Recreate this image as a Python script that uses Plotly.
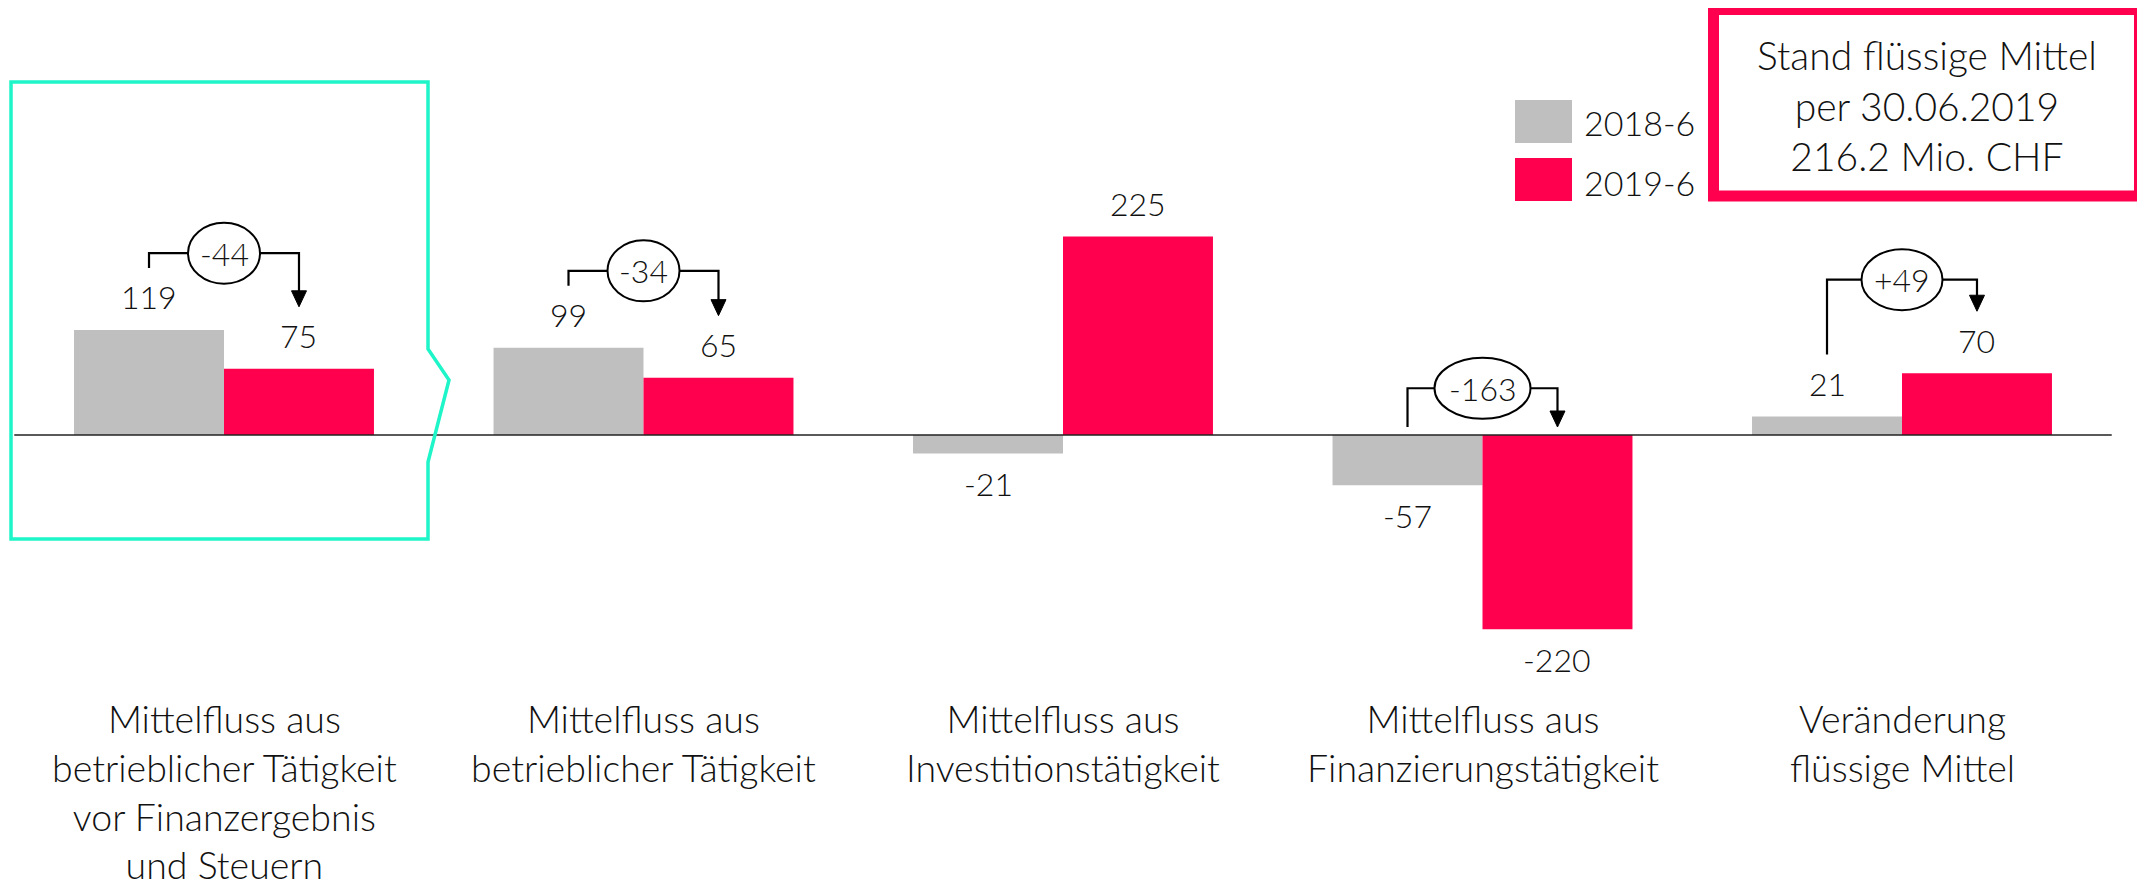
import plotly.graph_objects as go

# ---------------- data ----------------
categories = [
    "Mittelfluss aus<br>betrieblicher Tätigkeit<br>vor Finanzergebnis<br>und Steuern",
    "Mittelfluss aus<br>betrieblicher Tätigkeit",
    "Mittelfluss aus<br>Investitionstätigkeit",
    "Mittelfluss aus<br>Finanzierungstätigkeit",
    "Veränderung<br>flüssige Mittel",
]
series_names = ["2018-6", "2019-6"]
values_2018 = [119, 99, -21, -57, 21]
values_2019 = [75, 65, 225, -220, 70]
show_diff = [True, True, False, True, True]
info_lines = ["Stand flüssige Mittel", "per 30.06.2019", "216.2 Mio. CHF"]

# ---------------- layout config ----------------
PAGE_OFF = 8               # default body margin of the html page
W, H = 2145 - PAGE_OFF, 883 - PAGE_OFF
PX_PER_X = 419.5           # pixels per category
X0_PX = 224 - PAGE_OFF     # pixel x of first category centre
PX_PER_Y = 0.8825          # pixels per value unit
ZERO_PX = 435 - PAGE_OFF   # pixel y of zero line
BARGAP = 0.285
bracket_level = [206, 186, None, 53, 176]   # height of difference brackets (value units)

GREY = "#BFBFBF"
RED = "#FF004F"
TEAL = "#1EF5C8"
FONT = "Lato, 'Source Sans Pro', 'Open Sans', sans-serif"
FW = 300

x_range = [-X0_PX / PX_PER_X, (W - X0_PX) / PX_PER_X]
y_range = [-(H - ZERO_PX) / PX_PER_Y, ZERO_PX / PX_PER_Y]


def py(px):  # pixel offset -> value units
    return px / PX_PER_Y


n = len(categories)
xs = list(range(n))
bar_off = (1 - BARGAP) / 4.0

fig = go.Figure()
fig.add_trace(go.Bar(x=xs, y=values_2018, name=series_names[0], marker=dict(color=GREY, line=dict(width=0)),
                     showlegend=False, hoverinfo="skip"))
fig.add_trace(go.Bar(x=xs, y=values_2019, name=series_names[1], marker=dict(color=RED, line=dict(width=0)),
                     showlegend=False, hoverinfo="skip"))

annotations = []
shapes = []

# value labels
for i in xs:
    for v, sign in ((values_2018[i], -1), (values_2019[i], 1)):
        annotations.append(dict(
            x=i + sign * bar_off, y=v, xref="x", yref="y", text=str(v), showarrow=False,
            yshift=33 if v >= 0 else -30, yanchor="middle", xanchor="center",
            font=dict(family=FONT, size=32, color="#111", weight=FW)))

# category labels
for i in xs:
    annotations.append(dict(
        x=i, y=-293, xref="x", yref="y", text=categories[i], showarrow=False,
        yanchor="top", xanchor="center", align="center",
        font=dict(family=FONT, size=37.5, color="#111", weight=FW)))


# difference brackets
def endpoint(v):
    return v + py(62) if v > 0 else py(8)


def est_width(t):
    w = 0
    for ch in t:
        w += 10 if ch == "-" else 16
    return 1.5 * w + 9


for i in xs:
    if not show_diff[i]:
        continue
    a, b = values_2018[i], values_2019[i]
    d = b - a
    label = ("+" if d > 0 else "") + str(d)
    lvl = bracket_level[i]
    y_left = endpoint(a)
    y_tip = endpoint(b)
    fig.add_trace(go.Scatter(
        x=[i - bar_off, i - bar_off, i + bar_off, i + bar_off],
        y=[y_left, lvl, lvl, y_tip + py(10)],
        mode="lines", line=dict(color="black", width=2.2),
        showlegend=False, hoverinfo="skip"))
    shapes.append(dict(type="path", xref="x", yref="y", xsizemode="pixel", ysizemode="pixel",
                       xanchor=i + bar_off, yanchor=y_tip,
                       path="M -7.5 16 L 7.5 16 L 0 0 Z",
                       fillcolor="black", line=dict(color="black", width=1), layer="above"))
    w = est_width(label)
    shapes.append(dict(type="circle", xref="x", yref="y", xsizemode="pixel", ysizemode="pixel",
                       xanchor=i, yanchor=lvl, x0=-w / 2, x1=w / 2, y0=-30.5, y1=30.5,
                       fillcolor="white", line=dict(color="black", width=2), layer="above"))
    annotations.append(dict(x=i, y=lvl, xref="x", yref="y", text=label, showarrow=False,
                            yanchor="middle", xanchor="center",
                            font=dict(family=FONT, size=32, color="#111", weight=FW)))

# zero line
shapes.append(dict(type="line", xref="x", yref="y", x0=-0.5, x1=n - 0.5, y0=0, y1=0,
                   line=dict(color="#222", width=1.6), layer="above"))

# highlight frame around first category
fx = [-0.5077, 0.4863, 0.5364]
fy = [400.0, 97.5, 62.3, -30.6, -117.8]
frame_path = (f"M {fx[0]} {fy[0]} L {fx[1]} {fy[0]} L {fx[1]} {fy[1]} L {fx[2]} {fy[2]} "
              f"L {fx[1]} {fy[3]} L {fx[1]} {fy[4]} L {fx[0]} {fy[4]} Z")
shapes.append(dict(type="path", xref="x", yref="y", path=frame_path,
                   line=dict(color=TEAL, width=3.5), layer="above"))


# custom legend (pixel positions of the reference page)
def pxp(x):
    return (x - PAGE_OFF) / W


def pyp(y):
    return 1 - (y - PAGE_OFF) / H


for name, col, (t, b), cy in zip(series_names, [GREY, RED], [(100, 143), (158, 201)], [122.5, 182.5]):
    shapes.append(dict(type="rect", xref="paper", yref="paper", x0=pxp(1515), x1=pxp(1572),
                       y0=pyp(b), y1=pyp(t), fillcolor=col, line=dict(width=0)))
    annotations.append(dict(x=pxp(1582), y=pyp(cy), xref="paper", yref="paper", text=name,
                            showarrow=False, xanchor="left", yanchor="middle",
                            font=dict(family=FONT, size=34, color="#111", weight=FW)))

# info box
shapes.append(dict(type="rect", xref="paper", yref="paper", x0=pxp(1713.5), x1=pxp(2139.5),
                   y0=pyp(196), y1=pyp(9.5), fillcolor="white", line=dict(color=RED, width=11)))
annotations.append(dict(x=pxp(1927), y=pyp(105), xref="paper", yref="paper",
                        text="<br>".join(info_lines), showarrow=False,
                        xanchor="center", yanchor="middle", align="center",
                        font=dict(family=FONT, size=39, color="#111", weight=FW)))

fig.update_layout(
    width=W, height=H, margin=dict(l=0, r=0, t=0, b=0),
    paper_bgcolor="white", plot_bgcolor="white",
    barmode="group", bargap=BARGAP, bargroupgap=0,
    xaxis=dict(range=x_range, visible=False, fixedrange=True),
    yaxis=dict(range=y_range, visible=False, fixedrange=True),
    annotations=annotations, shapes=shapes,
    font=dict(family=FONT, weight=FW),
)

fig.write_html("out.html")
